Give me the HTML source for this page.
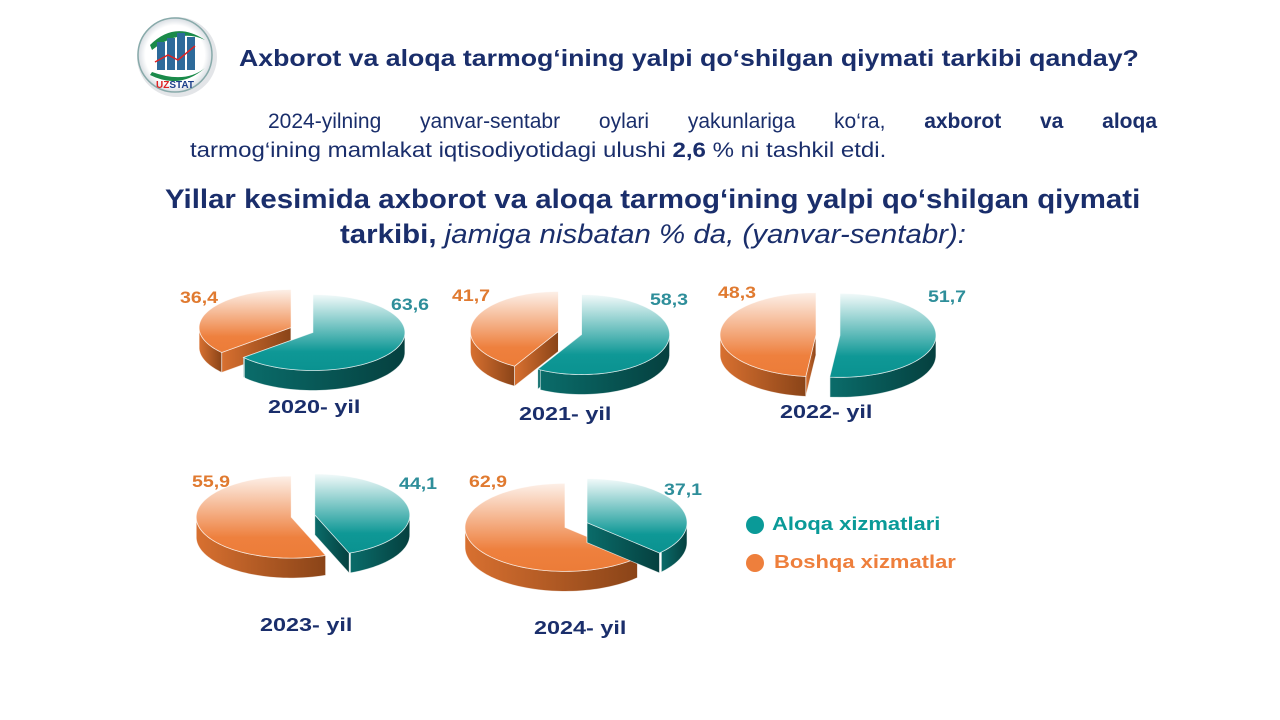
<!DOCTYPE html>
<html><head><meta charset="utf-8"><style>
body{margin:0;width:1280px;height:720px;background:#fff;overflow:hidden;position:relative;font-family:"Liberation Sans",Arial,sans-serif}
.t{position:absolute;white-space:nowrap;transform-origin:0 0}
.v{font-size:17px;font-weight:bold;transform:scaleX(1.15)}
.y{font-size:18px;font-weight:bold;color:#1a2e6b;transform:scaleX(1.3)}
</style></head><body>
<svg width="1280" height="720" style="position:absolute;left:0;top:0" id="s">
<defs>
<linearGradient id="gt" x1="0" y1="0" x2="0" y2="1"><stop offset="0" stop-color="#f2fafa"/><stop offset="0.75" stop-color="#0f9896"/><stop offset="1" stop-color="#0a9290"/></linearGradient>
<linearGradient id="go" x1="0" y1="0" x2="0" y2="1"><stop offset="0" stop-color="#fdf0e8"/><stop offset="0.75" stop-color="#ee803e"/><stop offset="1" stop-color="#ec7c38"/></linearGradient>
<linearGradient id="st" x1="0" y1="0" x2="1" y2="0"><stop offset="0" stop-color="#0a6c6a"/><stop offset="1" stop-color="#05403f"/></linearGradient>
<linearGradient id="so" x1="0" y1="0" x2="1" y2="0"><stop offset="0" stop-color="#d87030"/><stop offset="1" stop-color="#8a4418"/></linearGradient>
<radialGradient id="lg" cx="0.5" cy="0.5" r="0.5"><stop offset="0.8" stop-color="#fff"/><stop offset="1" stop-color="#d8dde2"/></radialGradient>
</defs>
<g id="logo">
<circle cx="177" cy="57" r="40" fill="#d0d4d8" opacity="0.6"/>
<circle cx="175" cy="55" r="37" fill="url(#lg)" stroke="#8aa" stroke-width="1.5"/>
<path d="M150 45 Q175 20 205 40 Q180 28 152 50Z" fill="#1a8a4a"/>
<path d="M150 75 Q180 90 205 68 Q185 84 152 72Z" fill="#1a8a4a"/>
<rect x="157" y="42" width="8" height="28" fill="#2d6a9a"/>
<rect x="167" y="38" width="8" height="32" fill="#2d6a9a"/>
<rect x="177" y="33" width="8" height="37" fill="#2d6a9a"/>
<rect x="187" y="37" width="8" height="33" fill="#2d6a9a"/>
<polyline points="155,62 168,55 178,60 195,46" fill="none" stroke="#d22" stroke-width="1.5"/>
<text x="175" y="88" font-size="10" font-weight="bold" text-anchor="middle" fill="#1c3f8a" font-family="Liberation Sans"><tspan fill="#d22">UZ</tspan>STAT</text>
</g>
<g id="pies"></g>
<circle cx="755" cy="525" r="9" fill="#0a9a98"/>
<circle cx="755" cy="563" r="9" fill="#ee7f3c"/>
</svg>
<div class="t" style="left:239px;top:45px;font-size:23px;font-weight:bold;color:#1a2e6b;transform:scaleX(1.16)">Axborot va aloqa tarmog‘ining yalpi qo‘shilgan qiymati tarkibi qanday?</div>
<div class="t" style="left:268px;top:110px;width:889px;font-size:21px;color:#1a2e6b;text-align:justify;text-align-last:justify;white-space:normal">2024-yilning yanvar-sentabr oylari yakunlariga ko‘ra, <b>axborot va aloqa</b></div>
<div class="t" style="left:190px;top:139px;font-size:21px;color:#1a2e6b;transform:scaleX(1.145)">tarmog‘ining mamlakat iqtisodiyotidagi ulushi <b>2,6</b> % ni tashkil etdi.</div>
<div class="t" style="left:165px;top:184px;font-size:27px;font-weight:bold;color:#1a2e6b;transform:scaleX(1.09)">Yillar kesimida axborot va aloqa tarmog‘ining yalpi qo‘shilgan qiymati</div>
<div class="t" style="left:340px;top:219px;font-size:27px;font-weight:bold;color:#1a2e6b;transform:scaleX(1.09)">tarkibi, <i style="font-weight:normal">jamiga nisbatan % da, (yanvar-sentabr):</i></div>
<div class="t v" style="left:180px;top:288px;color:#e07a30">36,4</div>
<div class="t v" style="left:391px;top:295px;color:#2e8e9a">63,6</div>
<div class="t y" style="left:268px;top:397px">2020- yil</div>
<div class="t v" style="left:452px;top:286px;color:#e07a30">41,7</div>
<div class="t v" style="left:650px;top:290px;color:#2e8e9a">58,3</div>
<div class="t y" style="left:519px;top:404px">2021- yil</div>
<div class="t v" style="left:718px;top:283px;color:#e07a30">48,3</div>
<div class="t v" style="left:928px;top:287px;color:#2e8e9a">51,7</div>
<div class="t y" style="left:780px;top:402px">2022- yil</div>
<div class="t v" style="left:192px;top:472px;color:#e07a30">55,9</div>
<div class="t v" style="left:399px;top:474px;color:#2e8e9a">44,1</div>
<div class="t y" style="left:260px;top:615px">2023- yil</div>
<div class="t v" style="left:469px;top:472px;color:#e07a30">62,9</div>
<div class="t v" style="left:664px;top:480px;color:#2e8e9a">37,1</div>
<div class="t y" style="left:534px;top:618px">2024- yil</div>
<div class="t" style="left:772px;top:514px;font-size:18px;font-weight:bold;color:#0a9a98;transform:scaleX(1.22)">Aloqa xizmatlari</div>
<div class="t" style="left:774px;top:552px;font-size:18px;font-weight:bold;color:#ee7f3c;transform:scaleX(1.22)">Boshqa xizmatlar</div>
<script>
var g=document.getElementById('pies');var NS='http://www.w3.org/2000/svg';
function P(d,f){var p=document.createElementNS(NS,'path');p.setAttribute('d',d);p.setAttribute('fill',f);p.setAttribute('stroke','#fff');p.setAttribute('stroke-width','0.8');p.setAttribute('stroke-opacity','0.7');g.appendChild(p);}
function pt(cx,cy,rx,ry,a){var r=a*Math.PI/180;return [cx+rx*Math.sin(r),cy-ry*Math.cos(r)];}
function slice(cx,cy,rx,ry,d,a0,a1,ex,top,side){
 var m=(a0+a1)/2*Math.PI/180;cx+=ex*Math.sin(m);cy-=ex*0.5*Math.cos(m);
 [a0,a1].forEach(function(a){var e=pt(cx,cy,rx,ry,a);P('M'+cx+' '+cy+'L'+e[0]+' '+e[1]+'L'+e[0]+' '+(e[1]+d)+'L'+cx+' '+(cy+d)+'Z',side);});
 var s=Math.max(a0,90),t=Math.min(a1,270);
 if(t>s){var q='',b=[];for(var a=s;a<=t+0.01;a+=2){var p=pt(cx,cy,rx,ry,Math.min(a,t));q+=(q?'L':'M')+p[0]+' '+p[1];b.push(p);}
 for(var i=b.length-1;i>=0;i--)q+='L'+b[i][0]+' '+(b[i][1]+d);P(q+'Z',side);}
 var q='M'+cx+' '+cy;for(var a=a0;a<=a1+0.01;a+=2){var p=pt(cx,cy,rx,ry,Math.min(a,a1));q+='L'+p[0]+' '+p[1];}
 var p=pt(cx,cy,rx,ry,a1);q+='L'+p[0]+' '+p[1]+'Z';P(q,top);
}
function pie(cx,cy,rx,ry,pct){var a=pct*3.6;
 slice(cx,cy,rx,ry,20,a,360,12,'url(#go)','url(#so)');
 slice(cx,cy,rx,ry,20,0,a,12,'url(#gt)','url(#st)');}
pie(302,330,92,38,63.6);
pie(570,333,88,40,58.3);
pie(828,335,96,42,51.7);
pie(303,516,95,41,44.1);
pie(576,525,100,44,37.1);
</script>
</body></html>
